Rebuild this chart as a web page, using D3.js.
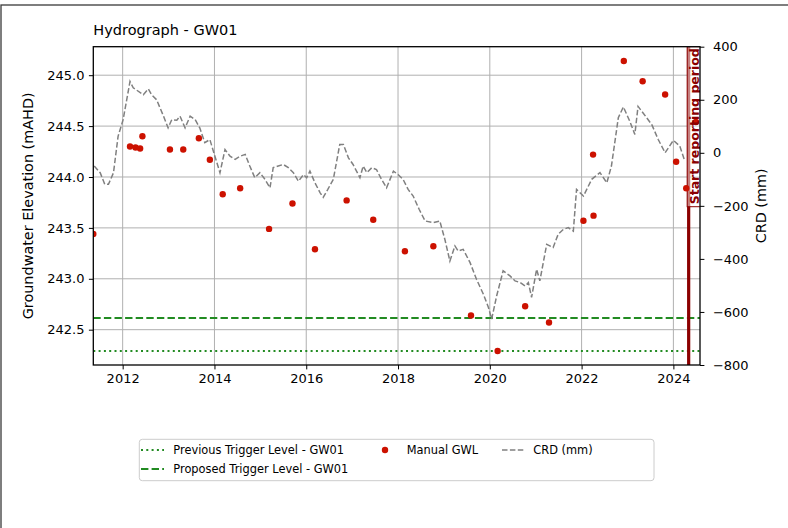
<!DOCTYPE html>
<html>
<head>
    <meta charset="UTF-8">
    <script src="https://d3js.org/d3.v7.min.js"></script>
    <style>
        body { margin: 0; background: #fff; }
        svg text { font-family: "DejaVu Sans", sans-serif; fill: #000; }
        .grid line { stroke: #b0b0b0; stroke-width: 1; }
    </style>
    <title>Hydrograph - GW01</title>
</head>
<body>
    <svg width="788" height="528"></svg>
    <script>
        // CRD (mm) - decimal year and value
        var crdYear = [2011.38, 2011.51, 2011.61, 2011.69, 2011.80, 2011.90, 2012.01, 2012.16, 2012.23, 2012.45,
            2012.56, 2012.63, 2012.74, 2012.89, 2012.99, 2013.07, 2013.18, 2013.25, 2013.36, 2013.47,
            2013.58, 2013.68, 2013.79, 2013.90, 2014.01, 2014.12, 2014.23, 2014.34, 2014.45, 2014.56,
            2014.67, 2014.77, 2014.88, 2014.99, 2015.10, 2015.21, 2015.28, 2015.39, 2015.50, 2015.61,
            2015.72, 2015.83, 2015.94, 2016.01, 2016.08, 2016.19, 2016.30, 2016.37, 2016.47, 2016.59,
            2016.73, 2016.81, 2016.92, 2017.02, 2017.17, 2017.24, 2017.32, 2017.43, 2017.53, 2017.64,
            2017.75, 2017.90, 2018.00, 2018.11, 2018.22, 2018.33, 2018.46, 2018.59, 2018.77, 2018.91,
            2019.02, 2019.13, 2019.24, 2019.31, 2019.42, 2019.57, 2019.71, 2019.86, 2019.97, 2020.04,
            2020.15, 2020.29, 2020.44, 2020.55, 2020.66, 2020.77, 2020.84, 2020.91, 2021.02, 2021.09,
            2021.24, 2021.38, 2021.49, 2021.60, 2021.71, 2021.82, 2021.89, 2022.04, 2022.22, 2022.40,
            2022.55, 2022.65, 2022.80, 2022.91, 2023.05, 2023.16, 2023.23, 2023.34, 2023.53, 2023.67,
            2023.82, 2024.00, 2024.14, 2024.25];
        var crdMm = [-50, -75, -119, -119, -75, 62, 125, 269, 245, 219,
            241, 219, 200, 138, 94, 125, 123, 138, 94, 138,
            125, 94, 38, 50, -13, -75, 12, -13, -25, -13,
            -6, -50, -94, -75, -100, -132, -56, -50, -44, -56,
            -75, -107, -82, -94, -69, -113, -150, -168, -138, -100,
            31, 31, -19, -44, -94, -50, -75, -56, -63, -100,
            -132, -69, -82, -100, -138, -163, -213, -257, -263, -257,
            -326, -408, -351, -370, -364, -414, -477, -533, -583, -627,
            -539, -445, -464, -483, -489, -502, -489, -545, -439, -483,
            -345, -357, -307, -289, -282, -295, -138, -163, -100, -75,
            -113, -50, 132, 173, 119, 69, 175, 150, 106, 50,
            0, 47, 25, -32];

        // Manual GWL (mAHD)
        var gwlYear = [2011.36, 2012.16, 2012.28, 2012.38, 2012.43, 2013.03, 2013.32, 2013.66, 2013.90, 2014.18,
            2014.56, 2015.19, 2015.70, 2016.19, 2016.88, 2017.46, 2018.15, 2018.77, 2019.59, 2020.17,
            2020.77, 2021.29, 2022.04, 2022.25, 2022.26, 2022.92, 2023.33, 2023.82, 2024.06, 2024.28,
            2024.49];
        var gwlValue = [243.44, 244.30, 244.29, 244.28, 244.40, 244.27, 244.27, 244.38, 244.17, 243.83,
            243.89, 243.49, 243.74, 243.29, 243.77, 243.58, 243.27, 243.32, 242.64, 242.29,
            242.73, 242.57, 243.57, 244.22, 243.62, 245.14, 244.94, 244.81, 244.15, 243.89,
            244.54];

        var previousTrigger = 242.29;
        var proposedTrigger = 242.615;
        var reportStart = 2024.333;

        var xTicks = [2012, 2014, 2016, 2018, 2020, 2022, 2024];
        var yTicks = [242.5, 243.0, 243.5, 244.0, 244.5, 245.0];
        var crdTicks = [-800, -600, -400, -200, 0, 200, 400];

        var legendLabels = ["Previous Trigger Level - GW01", "Proposed Trigger Level - GW01", "Manual GWL", "CRD (mm)"];

        var svg = d3.select("svg");
        var pLeft = 93.3, pRight = 700, pTop = 46.7, pBottom = 365;

        // figure frame (cropped)
        svg.append("rect")
            .attr("x", 1).attr("y", 5).attr("width", 900).attr("height", 700)
            .attr("fill", "none").attr("stroke", "#3a3a3a").attr("stroke-width", 1.3);

        var x = d3.scaleLinear().domain([2011.36, 2024.58]).range([pLeft, pRight]);
        var y = d3.scaleLinear().domain([242.153, 245.28]).range([pBottom, pTop]);
        var y2 = d3.scaleLinear().domain([-800, 400]).range([pBottom, pTop]);

        svg.append("clipPath").attr("id", "plot")
            .append("rect")
            .attr("x", pLeft).attr("y", pTop)
            .attr("width", pRight - pLeft).attr("height", pBottom - pTop);

        // grid
        var grid = svg.append("g").attr("class", "grid");
        grid.selectAll(".gx").data(xTicks).enter().append("line")
            .attr("x1", d => x(d)).attr("x2", d => x(d))
            .attr("y1", pTop).attr("y2", pBottom);
        grid.selectAll(".gy").data(yTicks).enter().append("line")
            .attr("x1", pLeft).attr("x2", pRight)
            .attr("y1", d => y(d)).attr("y2", d => y(d));

        var plot = svg.append("g").attr("clip-path", "url(#plot)");

        // trigger levels
        plot.append("line")
            .attr("x1", pLeft).attr("x2", pRight)
            .attr("y1", y(previousTrigger)).attr("y2", y(previousTrigger))
            .attr("stroke", "#228b22").attr("stroke-width", 2)
            .attr("stroke-dasharray", "2,3.3");
        plot.append("line")
            .attr("x1", pLeft).attr("x2", pRight)
            .attr("y1", y(proposedTrigger)).attr("y2", y(proposedTrigger))
            .attr("stroke", "#228b22").attr("stroke-width", 2)
            .attr("stroke-dasharray", "7.4,3.2");

        // start of reporting period
        plot.append("line")
            .attr("x1", x(reportStart)).attr("x2", x(reportStart))
            .attr("y1", pTop).attr("y2", pBottom)
            .attr("stroke", "#8b0000").attr("stroke-width", 3.2);

        // CRD on the right axis
        var crdLine = d3.line()
            .x((d, i) => x(d))
            .y((d, i) => y2(crdMm[i]));
        plot.append("path")
            .datum(crdYear)
            .attr("d", crdLine)
            .attr("fill", "none")
            .attr("stroke", "#808080")
            .attr("stroke-width", 1.5)
            .attr("stroke-dasharray", "5.5,2.4");

        plot.append("rect")
            .attr("x", x(reportStart) - 1.5).attr("y", pTop)
            .attr("width", 14).attr("height", 160)
            .attr("fill", "white").attr("fill-opacity", 0.5)
            .attr("stroke", "#8b0000").attr("stroke-width", 1);

        // manual readings
        plot.selectAll(".dot")
            .data(gwlYear)
            .enter()
            .append("circle")
            .attr("cx", (d, i) => x(d))
            .attr("cy", (d, i) => y(gwlValue[i]))
            .attr("r", 3.2)
            .attr("fill", "#cc1100");

        plot.append("text")
            .attr("transform", "translate(" + (x(reportStart) + 10.5) + "," + (pTop + 1.5) + ") rotate(-90)")
            .attr("text-anchor", "end")
            .attr("font-size", "12.5px")
            .attr("font-weight", "bold")
            .style("fill", "#8b0000")
            .text("Start reporting period");

        // axes
        var xAxis = svg.append("g")
            .attr("transform", "translate(0," + pBottom + ")")
            .call(d3.axisBottom(x).tickValues(xTicks).tickFormat(d3.format("d")).tickSize(4.4).tickPadding(4.5));
        var yAxis = svg.append("g")
            .attr("transform", "translate(" + pLeft + ",0)")
            .call(d3.axisLeft(y).tickValues(yTicks).tickFormat(d3.format(".1f")).tickSize(4.4).tickPadding(4.5));
        var y2Axis = svg.append("g")
            .attr("transform", "translate(" + pRight + ",0)")
            .call(d3.axisRight(y2).tickValues(crdTicks).tickSize(4.4).tickPadding(8.5));

        [xAxis, yAxis, y2Axis].forEach(function(a) {
            a.select(".domain").remove();
            a.selectAll(".tick line").attr("stroke", "#000").attr("stroke-width", 1);
            a.selectAll(".tick text").attr("font-size", "13px").attr("font-family", "DejaVu Sans");
        });

        svg.append("rect")
            .attr("x", pLeft).attr("y", pTop)
            .attr("width", pRight - pLeft).attr("height", pBottom - pTop)
            .attr("fill", "none").attr("stroke", "#000").attr("stroke-width", 1.3);

        // titles
        svg.append("text")
            .attr("x", pLeft).attr("y", 35)
            .attr("font-size", "14.5px")
            .text("Hydrograph - GW01");
        svg.append("text")
            .attr("transform", "translate(32.5," + ((pTop + pBottom) / 2) + ") rotate(-90)")
            .attr("text-anchor", "middle")
            .attr("font-size", "14.4px")
            .text("Groundwater Elevation (mAHD)");
        svg.append("text")
            .attr("transform", "translate(765.5," + ((pTop + pBottom) / 2) + ") rotate(-90)")
            .attr("text-anchor", "middle")
            .attr("font-size", "14.4px")
            .text("CRD (mm)");

        // legend
        var lg = svg.append("g");
        lg.append("rect")
            .attr("x", 139.3).attr("y", 439.3).attr("width", 514.7).attr("height", 41.4)
            .attr("rx", 3)
            .attr("fill", "white").attr("stroke", "#cccccc").attr("stroke-width", 1);

        var legendPos = [[141, 450], [141, 469], [373, 450], [502, 450]];
        lg.append("line")
            .attr("x1", legendPos[0][0]).attr("x2", legendPos[0][0] + 23)
            .attr("y1", legendPos[0][1]).attr("y2", legendPos[0][1])
            .attr("stroke", "#228b22").attr("stroke-width", 2).attr("stroke-dasharray", "2,3.3");
        lg.append("line")
            .attr("x1", legendPos[1][0]).attr("x2", legendPos[1][0] + 23)
            .attr("y1", legendPos[1][1]).attr("y2", legendPos[1][1])
            .attr("stroke", "#228b22").attr("stroke-width", 2).attr("stroke-dasharray", "7.4,3.2");
        lg.append("circle")
            .attr("cx", 385).attr("cy", legendPos[2][1]).attr("r", 3.2)
            .attr("fill", "#cc1100");
        lg.append("line")
            .attr("x1", legendPos[3][0]).attr("x2", legendPos[3][0] + 23)
            .attr("y1", legendPos[3][1]).attr("y2", legendPos[3][1])
            .attr("stroke", "#808080").attr("stroke-width", 1.5).attr("stroke-dasharray", "5.5,2.4");

        var textX = [173.3, 173.3, 406.7, 533.3];
        lg.selectAll(".ltext")
            .data(legendLabels)
            .enter()
            .append("text")
            .attr("x", (d, i) => textX[i])
            .attr("y", (d, i) => legendPos[i][1])
            .attr("dy", "0.36em")
            .attr("font-size", "11.4px")
            .text(d => d);
    </script>
</body>
</html>
